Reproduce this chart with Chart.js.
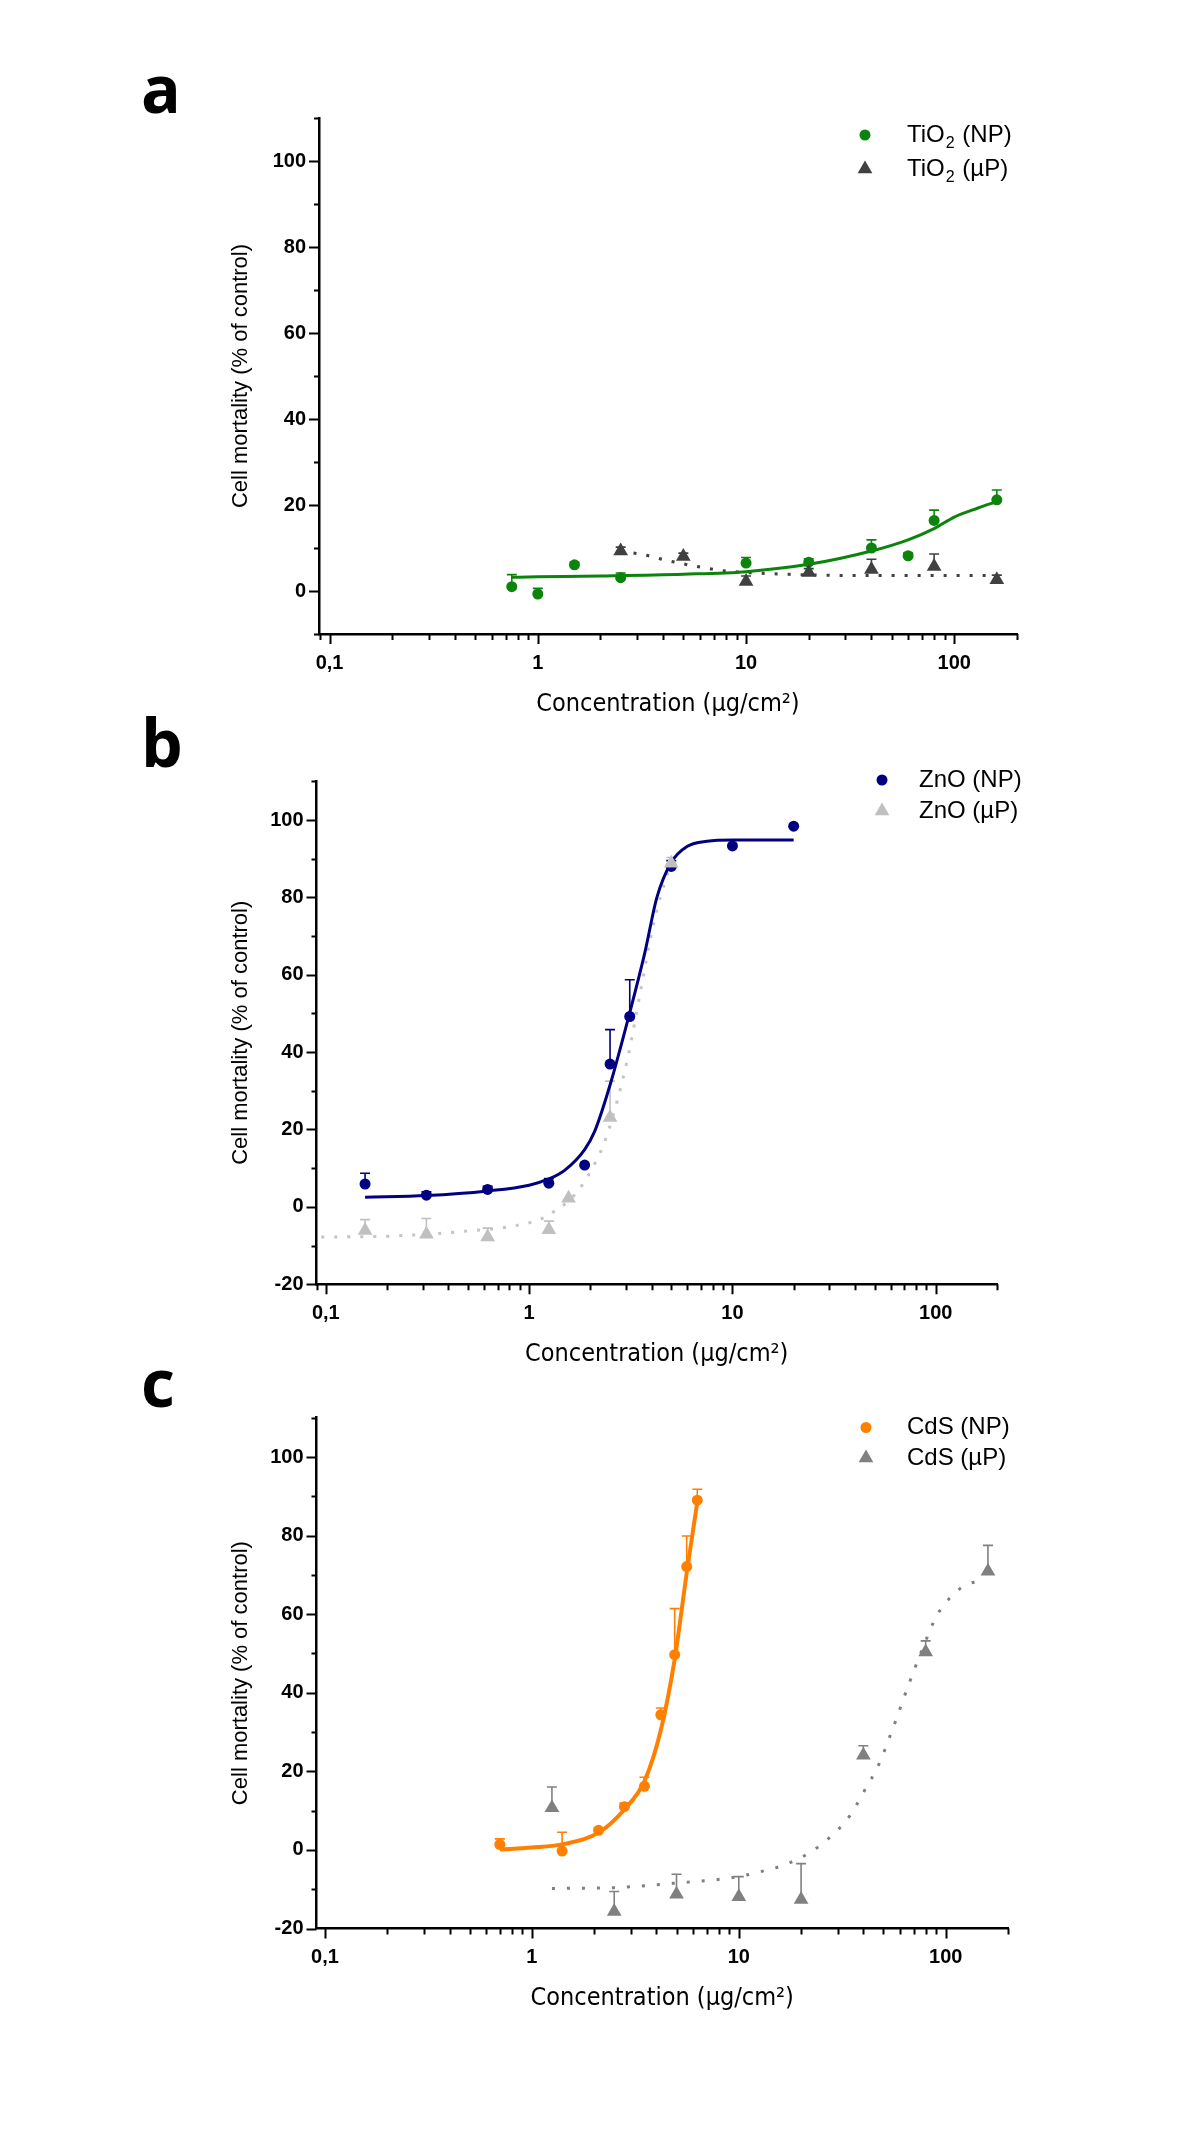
<!DOCTYPE html>
<html>
<head>
<meta charset="utf-8">
<script src="https://cdn.jsdelivr.net/npm/chart.js@4.4.1/dist/chart.umd.min.js"></script>
<style>
html, body { margin: 0; padding: 0; background: #fff; }
body { width: 1200px; height: 2129px; position: relative; overflow: hidden; }
canvas { position: absolute; left: 0; }
.letter { position: absolute; left: 141px; font-family: "Open Sans", "Noto Sans", sans-serif; font-weight: 700; font-size: 66px; line-height: 66px; color: #000; }
</style>
</head>
<body>
<div class="letter" style="top:54px">a</div>
<div class="letter" style="top:708px">b</div>
<div class="letter" style="top:1348px">c</div>
<canvas id="chartA" width="1200" height="740" style="top:0px"></canvas>
<canvas id="chartB" width="1200" height="700" style="top:700px"></canvas>
<canvas id="chartC" width="1200" height="769" style="top:1360px"></canvas>
<script>
// axis ticks
const xMajor = [0.1, 1, 10, 100];
const xMajorLabels = ['0,1', '1', '10', '100'];

// panel a - TiO2
const tiNpX = [0.75, 1, 1.5, 2.5, 10, 20, 40, 60, 80, 160];
const tiNpY = [1.0, -0.7, 6.1, 3.1, 6.5, 6.7, 10.0, 8.2, 16.4, 21.2];
const tiNpErr = [2.8, 1.3, 0.6, 1.1, 1.3, 0.8, 1.9, 0.6, 2.4, 2.3];
const tiFitX = [0.75, 1, 2, 5, 10, 20, 40, 60, 80, 100, 130, 160];
const tiFitY = [3.2, 3.3, 3.5, 3.9, 4.5, 6.2, 9.3, 11.9, 14.5, 17.2, 19.3, 20.8];
const tiMpX = [2.5, 5, 10, 20, 40, 80, 160];
const tiMpY = [9.3, 8.0, 2.2, 4.3, 5.0, 5.7, 2.6];
const tiMpErr = [0.9, 0.8, 1.3, 0.9, 2.4, 2.9, 1.1];
const tiDotX = [2.5, 3.25, 4.1, 5, 6.5, 8, 10, 13.5, 20, 30, 160];
const tiDotY = [9.3, 8.4, 7.2, 6.3, 5.3, 4.65, 4.3, 4.0, 3.75, 3.6, 3.6];

// panel b - ZnO
const znNpX = [0.156, 0.3125, 0.625, 1.25, 1.875, 2.5, 3.125, 5, 10, 20];
const znNpY = [5.9, 3.0, 4.5, 6.1, 10.8, 36.9, 49.2, 88.0, 93.3, 98.4];
const znNpErr = [2.8, 0.9, 0.8, 1.2, 0, 8.9, 9.5, 1.5, 0, 0];
const znFitX = [0.156, 0.3125, 0.625, 1, 1.25, 1.5, 1.875, 2.1, 2.5, 3.1, 3.7, 4.25, 5, 6, 7.5, 10, 20];
const znFitY = [2.5, 2.9, 4.1, 5.6, 7.2, 9.5, 14.8, 19.5, 31.5, 49.5, 65.5, 80, 89, 93.2, 94.5, 94.8, 94.8];
const znMpX = [0.156, 0.3125, 0.625, 1.25, 1.5625, 2.5, 5];
const znMpY = [-6.1, -7.1, -7.8, -5.9, 2.2, 23.1, 88.8];
const znMpErr = [2.8, 4.1, 2.3, 2.2, 0, 9.4, 1.5];
const znDotX = [0.095, 0.2, 0.44, 0.87, 1.16, 1.32, 1.56, 1.75, 2.0, 2.32, 2.65, 3.08, 3.52, 4.06, 4.5, 5];
const znDotY = [-7.8, -7.6, -6.5, -4.8, -3.0, -1.3, 1.5, 4.3, 9.1, 16.0, 25.5, 39.4, 55.4, 72.3, 81.5, 88.8];

// panel c - CdS
const cdNpX = [0.7, 1.4, 2.1, 2.8, 3.5, 4.2, 4.9, 5.6, 6.3];
const cdNpY = [1.4, -0.3, 5.0, 11.0, 16.2, 34.4, 49.7, 72.1, 89.0];
const cdNpErr = [1.4, 4.8, 0.6, 0.9, 2.3, 1.7, 11.7, 7.8, 2.8];
const cdFitX = [0.7, 1, 1.4, 2.1, 2.8, 3.5, 4.2, 4.9, 5.27, 5.6, 6.3];
const cdFitY = [0.1, 0.6, 1.4, 4.4, 10.3, 17.5, 30.5, 48.5, 60.3, 70.5, 88.5];
const cdMpX = [1.25, 2.5, 5, 10, 20, 40, 80, 160];
const cdMpY = [10.7, -15.7, -11.3, -11.9, -12.6, 24.1, 50.4, 70.9];
const cdMpErr = [5.3, 5.1, 5.1, 5.1, 9.1, 2.4, 2.8, 6.6];
const cdDotX = [1.25, 2.5, 4.8, 9.2, 12.6, 17.6, 24.5, 34.3, 39.8, 47.6, 55.7, 65.5, 77, 90.5, 107.8, 126, 150];
const cdDotY = [-9.8, -9.6, -8.5, -7.1, -5.6, -3.3, 1.0, 8.6, 14.4, 21.9, 31.1, 41.4, 51, 59.6, 64.8, 67.5, 68.5];

const narrow = '"Liberation Sans Narrow", "DejaVu Sans Condensed", "Liberation Sans", sans-serif';
const sans = '"Liberation Sans", Arial, sans-serif';

function pts(xs, ys) {
    return xs.map((x, i) => ({ x: x, y: ys[i] }));
}

function xTickValues(min, max) {
    const out = [];
    for (let e = -2; e <= 3; e++) {
        for (let m = 1; m <= 9; m++) {
            const v = +(m * Math.pow(10, e)).toPrecision(3);
            if (v >= min && v <= max) out.push(v);
        }
    }
    return out;
}

function yTickValues(min, max) {
    const out = [];
    for (let v = min; v <= max; v += 10) out.push(v);
    return out;
}

function isMajor(v) {
    return xMajor.some(m => Math.abs(m - v) < 1e-9);
}

// upper error bars with caps, drawn under the markers
const errorBars = {
    id: 'errorBars',
    beforeDatasetsDraw(chart) {
        const ctx = chart.ctx;
        const xs = chart.scales.x, ys = chart.scales.y;
        chart.data.datasets.forEach((ds) => {
            if (!ds.errors) return;
            ctx.save();
            ctx.strokeStyle = ds.errorColor || ds.backgroundColor;
            ctx.lineWidth = 1.6;
            ds.data.forEach((p, j) => {
                const err = ds.errors[j];
                if (!err) return;
                const px = xs.getPixelForValue(p.x);
                const y0 = ys.getPixelForValue(p.y);
                const y1 = ys.getPixelForValue(p.y + err);
                ctx.beginPath();
                ctx.moveTo(px, y0);
                ctx.lineTo(px, y1);
                ctx.moveTo(px - 5, y1);
                ctx.lineTo(px + 5, y1);
                ctx.stroke();
            });
            ctx.restore();
        });
    }
};

// outward tick marks, long on labelled ticks
const axisTicks = {
    id: 'axisTicks',
    afterDraw(chart) {
        const ctx = chart.ctx;
        const xs = chart.scales.x, ys = chart.scales.y;
        ctx.save();
        ctx.strokeStyle = '#000';
        ctx.lineWidth = 2;
        ctx.beginPath();
        xs.ticks.forEach(t => {
            const px = Math.round(xs.getPixelForValue(t.value)) + 0.5;
            const len = t.label ? 10 : 6;
            ctx.moveTo(px, xs.top);
            ctx.lineTo(px, xs.top + len);
        });
        ys.ticks.forEach(t => {
            const py = Math.round(ys.getPixelForValue(t.value)) + 0.5;
            const len = t.label ? 10 : 5;
            ctx.moveTo(ys.right, py);
            ctx.lineTo(ys.right - len, py);
        });
        ctx.stroke();
        ctx.restore();
    }
};

// legend inside the plot area, top right
const insideLegend = {
    id: 'insideLegend',
    afterDraw(chart, args, opts) {
        if (!opts || !opts.items) return;
        const ctx = chart.ctx;
        ctx.save();
        opts.items.forEach((idx, r) => {
            const ds = chart.data.datasets[idx];
            const y = opts.rows[r];
            ctx.fillStyle = ds.backgroundColor;
            Chart.helpers.drawPoint(ctx, {
                pointStyle: ds.pointStyle,
                radius: ds.pointStyle === 'triangle' ? 8.5 : 5.5,
                rotation: 0,
                borderWidth: 0
            }, opts.markerX, y);
            ctx.fillStyle = '#000';
            ctx.textBaseline = 'middle';
            ctx.textAlign = 'left';
            const parts = ds.label.split('\u2082');
            let x = opts.textX;
            ctx.font = '24px ' + sans;
            ctx.fillText(parts[0], x, y);
            x += ctx.measureText(parts[0]).width + 1;
            if (parts.length > 1) {
                ctx.font = '16px ' + sans;
                ctx.fillText('2', x, y + 9);
                x += ctx.measureText('2').width + 1;
                ctx.font = '24px ' + sans;
                ctx.fillText(parts[1], x, y);
            }
        });
        ctx.restore();
    }
};

function makeChart(id, p) {
    const xTicks = xTickValues(p.xMin, p.xMax);
    const yTicks = yTickValues(p.yMin, p.yMax);
    return new Chart(document.getElementById(id), {
        type: 'scatter',
        data: {
            datasets: [
                {
                    label: p.npLabel,
                    data: pts(p.npX, p.npY),
                    errors: p.npErr,
                    backgroundColor: p.npColor,
                    pointStyle: 'circle',
                    pointRadius: 5.5,
                    pointBorderWidth: 0,
                    order: 1
                },
                {
                    label: p.mpLabel,
                    data: pts(p.mpX, p.mpY),
                    errors: p.mpErr,
                    backgroundColor: p.mpColor,
                    pointStyle: 'triangle',
                    pointRadius: 8.5,
                    pointBorderWidth: 0,
                    order: 0
                },
                {
                    label: 'fit NP',
                    data: pts(p.fitX, p.fitY),
                    showLine: true,
                    borderColor: p.npColor,
                    borderWidth: p.fitWidth,
                    pointRadius: 0,
                    cubicInterpolationMode: 'monotone',
                    order: 3
                },
                {
                    label: 'fit µP',
                    data: pts(p.dotX, p.dotY),
                    showLine: true,
                    borderColor: p.dotColor,
                    borderWidth: 3,
                    borderDash: p.dash,
                    pointRadius: 0,
                    cubicInterpolationMode: 'monotone',
                    order: 4
                }
            ]
        },
        options: {
            responsive: false,
            animation: false,
            layout: { padding: p.padding },
            plugins: {
                legend: { display: false },
                tooltip: { enabled: false },
                insideLegend: { items: [0, 1], markerX: p.legendX, textX: p.legendTextX, rows: p.legendRows }
            },
            scales: {
                x: {
                    type: 'logarithmic',
                    min: p.xMin,
                    max: p.xMax,
                    afterBuildTicks: s => { s.ticks = xTicks.map(v => ({ value: v })); },
                    afterFit: s => { s.height = 85.4; },
                    grid: { display: false, drawTicks: true, tickLength: 10 },
                    border: { display: true, color: '#000', width: 2.5 },
                    ticks: {
                        autoSkip: false,
                        maxRotation: 0,
                        minRotation: 0,
                        padding: 7,
                        color: '#000',
                        font: { family: sans, size: 20, weight: 'bold' },
                        callback: v => isMajor(v) ? xMajorLabels[xMajor.findIndex(m => Math.abs(m - v) < 1e-9)] : ''
                    },
                    title: {
                        display: true,
                        text: 'Concentration (µg/cm²)',
                        color: '#000',
                        padding: 0,
                        font: { family: narrow, size: 25 }
                    }
                },
                y: {
                    type: 'linear',
                    min: p.yMin,
                    max: p.yMax,
                    afterBuildTicks: s => { s.ticks = yTicks.map(v => ({ value: v })); },
                    afterFit: s => { s.width = p.yWidth; },
                    grid: { display: false, drawTicks: true, tickLength: 10 },
                    border: { display: true, color: '#000', width: 2.5 },
                    ticks: {
                        autoSkip: false,
                        padding: 3,
                        color: '#000',
                        font: { family: sans, size: 20, weight: 'bold' },
                        callback: v => (v % 20 === 0 && v <= 100) ? String(v) : ''
                    },
                    title: {
                        display: true,
                        text: 'Cell mortality (% of control)',
                        color: '#000',
                        padding: 0,
                        font: { family: sans, size: 22 }
                    }
                }
            }
        },
        plugins: [errorBars, axisTicks, insideLegend]
    });
}

makeChart('chartA', {
    npLabel: 'TiO\u2082 (NP)', mpLabel: 'TiO\u2082 (µP)',
    npX: tiNpX, npY: tiNpY, npErr: tiNpErr, npColor: '#0c840c',
    mpX: tiMpX, mpY: tiMpY, mpErr: tiMpErr, mpColor: '#404040',
    fitX: tiFitX, fitY: tiFitY, fitWidth: 3,
    dotX: tiDotX, dotY: tiDotY, dotColor: '#404040', dash: [3, 10],
    xMin: 0.089, xMax: 200, yMin: -10, yMax: 110,
    padding: { left: 228, top: 118, right: 183, bottom: 20.6 }, yWidth: 91,
    legendX: 865, legendTextX: 907, legendRows: [135, 169]
});

makeChart('chartB', {
    npLabel: 'ZnO (NP)', mpLabel: 'ZnO (µP)',
    npX: znNpX, npY: znNpY, npErr: znNpErr, npColor: '#000080',
    mpX: znMpX, mpY: znMpY, mpErr: znMpErr, mpColor: '#c0c0c0',
    fitX: znFitX, fitY: znFitY, fitWidth: 3,
    dotX: znDotX, dotY: znDotY, dotColor: '#c4c4c4', dash: [3, 10],
    xMin: 0.09, xMax: 200, yMin: -20, yMax: 110,
    padding: { left: 228, top: 81.3, right: 203, bottom: 30.4 }, yWidth: 88.5,
    legendX: 882, legendTextX: 919, legendRows: [80, 111]
});

makeChart('chartC', {
    npLabel: 'CdS (NP)', mpLabel: 'CdS (µP)',
    npX: cdNpX, npY: cdNpY, npErr: cdNpErr, npColor: '#ff8000',
    mpX: cdMpX, mpY: cdMpY, mpErr: cdMpErr, mpColor: '#808080',
    fitX: cdFitX, fitY: cdFitY, fitWidth: 4,
    dotX: cdDotX, dotY: cdDotY, dotColor: '#808080', dash: [3, 12],
    xMin: 0.091, xMax: 200, yMin: -20, yMax: 110,
    padding: { left: 228, top: 57.7, right: 192, bottom: 115.1 }, yWidth: 88.5,
    legendX: 866, legendTextX: 907, legendRows: [67.5, 98]
});
</script>
</body>
</html>
